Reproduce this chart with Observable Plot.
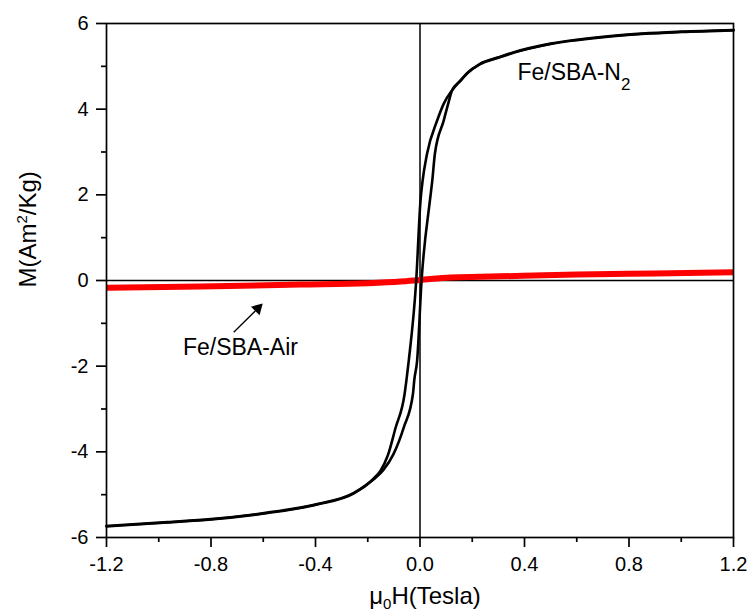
<!DOCTYPE html>
<html><head><meta charset="utf-8">
<script src="https://cdn.jsdelivr.net/npm/d3@7"></script>
<script src="https://cdn.jsdelivr.net/npm/@observablehq/plot@0.6"></script>
<style>html,body{margin:0;padding:0;background:#fff;overflow:hidden}svg{display:block}</style>
</head><body><div id="chart"></div>
<script>
// Fe/SBA-N2 hysteresis loop: descending branch (field swept +1.2 -> -1.2), listed by increasing H
const descH = [-1.2, -0.966, -0.8, -0.584, -0.393, -0.253, -0.177, -0.151, -0.123, -0.094, -0.059, -0.052, -0.043, -0.0145, 0.002, 0.01, 0.027, 0.066, 0.091, 0.123, 0.155, 0.18, 0.23, 0.3, 0.36, 0.5, 0.75, 1.0, 1.2];
const descM = [-5.73, -5.64, -5.57, -5.42, -5.22, -4.96, -4.62, -4.44, -4.08, -3.45, -2.65, -2.33, -1.87, 0, 1.87, 2.33, 2.96, 3.74, 4.13, 4.44, 4.67, 4.84, 5.06, 5.21, 5.33, 5.53, 5.72, 5.81, 5.85];
// ascending branch (field swept -1.2 -> +1.2)
const ascH = [-1.2, -0.966, -0.8, -0.584, -0.393, -0.253, -0.177, -0.14, -0.102, -0.062, -0.027, -0.022, -0.011, 0.006, 0.038, 0.047, 0.057, 0.091, 0.108, 0.123, 0.155, 0.18, 0.23, 0.3, 0.36, 0.5, 0.75, 1.0, 1.2];
const ascM = [-5.74, -5.65, -5.58, -5.43, -5.23, -4.97, -4.64, -4.42, -4.06, -3.43, -2.65, -2.33, -1.87, 0, 1.87, 2.33, 2.96, 3.74, 4.13, 4.44, 4.66, 4.83, 5.05, 5.2, 5.32, 5.52, 5.71, 5.8, 5.84];
// Fe/SBA-Air curve
const airH = [-1.2, -0.84, -0.457, -0.2, -0.075, 0.0, 0.117, 0.23, 0.6, 0.9, 1.2];
const airM = [-0.17, -0.14, -0.095, -0.063, -0.025, 0.012, 0.07, 0.085, 0.14, 0.165, 0.19];

// ticks
const xTicks = [-1.2, -0.8, -0.4, 0, 0.4, 0.8, 1.2];
const xTickLabels = ["-1.2", "-0.8", "-0.4", "0.0", "0.4", "0.8", "1.2"];
const xMinor = [-1.0, -0.6, -0.2, 0.2, 0.6, 1.0];
const yTicks = [-6, -4, -2, 0, 2, 4, 6];
const yTickLabels = ["-6", "-4", "-2", "0", "2", "4", "6"];
const yMinor = [-5, -3, -1, 1, 3, 5];

// annotations (data coordinates)
const labelText = ["Fe/SBA-N2", "Fe/SBA-Air"];
const labelH = [0.373, -0.9075];
const labelM = [4.67, -1.73];
const arrowFrom = {H: -0.713, M: -1.21};
const arrowTo = {H: -0.621, M: -0.653};

const xTitle = "μ0H(Tesla)";
const yTitle = "M(Am2/Kg)";

const loop = [
  ...descH.map((h, i) => ({H: h, M: descM[i], branch: "desc"})),
  ...ascH.map((h, i) => ({H: h, M: ascM[i], branch: "asc"}))
];
const air = airH.map((h, i) => ({H: h, M: airM[i]}));
const labels = labelText.map((t, i) => ({t, H: labelH[i], M: labelM[i]}));

const chart = Plot.plot({
  width: 751, height: 616,
  marginLeft: 106, marginRight: 18, marginTop: 23, marginBottom: 79,
  x: {domain: [-1.2, 1.2]},
  y: {domain: [-6, 6]},
  style: {fontFamily: "'Liberation Sans', Arial, sans-serif", fontSize: "20px", color: "black", background: "white"},
  marks: [
    Plot.ruleX([0], {strokeWidth: 1.5}),
    Plot.ruleY([0], {strokeWidth: 1.5}),
    Plot.line(air, {x: "H", y: "M", stroke: "#ff0000", strokeWidth: 6, strokeLinecap: "butt", curve: "monotone-x"}),
    Plot.line(loop, {x: "H", y: "M", z: "branch", stroke: "black", strokeWidth: 2.6, curve: "monotone-x"}),
    Plot.frame({strokeWidth: 1.7}),
    Plot.axisX({ticks: xTicks, tickSize: 10, tickPadding: 9, strokeWidth: 1.7, label: null,
      tickFormat: d => xTickLabels[xTicks.indexOf(d)]}),
    Plot.axisX({ticks: xMinor, tickSize: 5, strokeWidth: 1.7, label: null, tickFormat: () => ""}),
    Plot.axisY({ticks: yTicks, tickSize: 10, tickPadding: 8, strokeWidth: 1.7, label: null,
      tickFormat: d => yTickLabels[yTicks.indexOf(d)]}),
    Plot.axisY({ticks: yMinor, tickSize: 5, strokeWidth: 1.7, label: null, tickFormat: () => ""}),
    Plot.text(labels, {x: "H", y: "M", text: "t", textAnchor: "start", lineAnchor: "bottom", fontSize: 23}),
    Plot.link([arrowFrom], {x1: "H", y1: "M", x2: () => arrowTo.H, y2: () => arrowTo.M, strokeWidth: 1.3}),
    Plot.dot([arrowTo], {x: "H", y: "M", symbol: "triangle", r: 4.5, rotate: 45, fill: "black", stroke: "none"}),
    Plot.text([xTitle], {text: d => d, frameAnchor: "bottom", dy: 66, dx: 5, lineAnchor: "bottom", fontSize: 24}),
    Plot.text([yTitle], {text: d => d, frameAnchor: "left", rotate: -90, dx: -71, dy: 7, lineAnchor: "bottom", fontSize: 24})
  ]
});

document.getElementById("chart").appendChild(chart);

// sub/superscripts as real text
const svg = d3.select(chart);
function rich(str, parts) {
  svg.selectAll("text").filter(function () { return this.textContent === str; }).each(function () {
    const t = d3.select(this);
    t.text(null);
    parts.forEach(p => {
      const s = t.append("tspan").text(p.t);
      if (p.dy) s.attr("dy", p.dy);
      if (p.size) s.attr("font-size", p.size);
    });
  });
}
rich("Fe/SBA-N2", [{t: "Fe/SBA-N"}, {t: "2", dy: 10, size: 17}]);
rich(yTitle, [{t: "M(Am"}, {t: "2", dy: -9, size: 15}, {t: "/Kg)", dy: 9}]);
rich(xTitle, [{t: "μ"}, {t: "0", dy: 5, size: 15}, {t: "H(Tesla)", dy: -5}]);
</script>
</body></html>
